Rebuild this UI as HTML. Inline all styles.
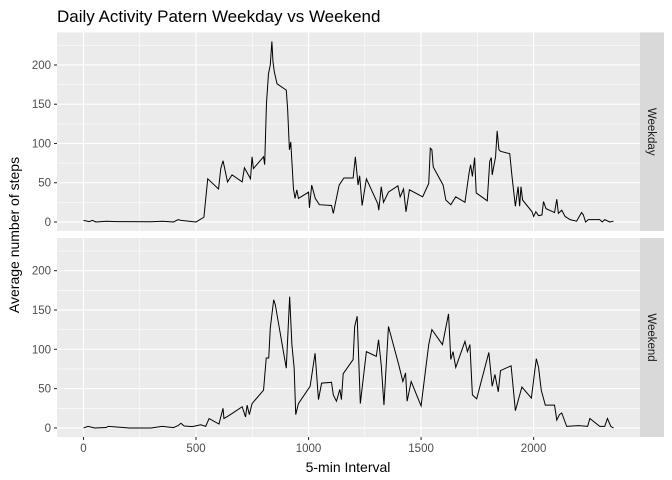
<!DOCTYPE html>
<html><head><meta charset="utf-8"><style>
body{margin:0;background:#fff;}
svg{display:block;font-family:"Liberation Sans",Arial,sans-serif;}
</style></head><body>
<svg id="chart" width="672" height="480">
<text x="57" y="22" font-size="17" fill="#000">Daily Activity Patern Weekday vs Weekend</text>
<text x="348" y="472" font-size="14" text-anchor="middle" fill="#000">5-min Interval</text>
<text transform="translate(19,235) rotate(-90)" font-size="14" text-anchor="middle" fill="#000">Average number of steps</text>
</svg>
<script>
const panelNames = ["Weekday","Weekend"];
const xTicks = [0,500,1000,1500,2000];
const yTicks = [0,50,100,150,200];
const weekdayIntervals = [0,25,40,55,100,150,200,300,350,400,420,433,500,535,552,600,610,620,640,660,705,715,742,749,755,800,805,813,822,830,837,842,848,860,901,907,915,921,933,940,948,955,1000,1004,1014,1030,1048,1102,1110,1136,1157,1198,1208,1220,1227,1238,1257,1308,1312,1323,1333,1355,1397,1407,1422,1433,1448,1507,1534,1541,1548,1554,1598,1610,1632,1654,1695,1713,1720,1728,1738,1745,1794,1805,1812,1816,1831,1838,1846,1853,1894,1904,1919,1931,1938,1944,1951,1993,2000,2010,2022,2037,2044,2055,2093,2103,2110,2125,2140,2162,2191,2213,2221,2231,2243,2294,2305,2316,2338,2355];
const weekdaySteps = [2,0.5,2,0,1,0.5,0.5,0.3,1,0,3,2,0,6,55,42,68,78,51,60,51,69,55,83,68,83,73,151,189,200,230,204,191,176,168,144,92,102,42,30,41,30,38,18,47,30,22,21,11,47,56,56,83,47,59,21,55,23,15,45,25,38,46,32,42,13,41,32,49,94,92,70,47,28,22,32,25,62,73,58,82,37,27,77,82,60,83,116,92,90,87,58,20,45,20,45,28,13,7,13,8,9,26,17,12,29,11,15,7,3,1,12,9,0,3,3,0,3,0,1];
const weekendIntervals = [0,20,50,100,110,200,300,350,400,420,433,447,484,521,543,558,602,620,624,653,705,720,727,737,749,800,812,823,830,845,852,901,916,926,936,943,955,1007,1029,1044,1058,1102,1110,1124,1139,1146,1154,1198,1205,1216,1230,1257,1301,1311,1323,1335,1355,1401,1419,1431,1438,1456,1500,1534,1548,1595,1622,1632,1642,1654,1695,1706,1717,1728,1747,1801,1816,1828,1843,1853,1900,1919,1948,1990,2012,2022,2034,2052,2093,2103,2115,2125,2147,2199,2240,2250,2294,2316,2328,2343,2355];
const weekendSteps = [0,2,0,0.5,2,0,0,2,0.5,3,6,2.5,1.7,4,2,12,5,25,12,17,27,14,29,17,31,48,89,89,127,163,157,76,167,106,76,17,31,53,95,36,57,58,42,34,49,36,69,87,129,142,31,97,91,112,80,29,129,80,59,70,34,59,28,106,125,106,145,87,97,77,110,97,106,42,37,96,53,68,46,73,79,22,52,38,88,77,48,29,29,10,17,19,2,3,2,12,2,2,12,2,0];

const svg = document.getElementById('chart');
const NS = 'http://www.w3.org/2000/svg';
const L = 57, R = 640;
const xMin = -117.75, xMax = 2472.75;
const yMin = -11.5, yMax = 241.5;
const panels = [{top:32.4,bottom:231,ix:weekdayIntervals,v:weekdaySteps},{top:238,bottom:437,ix:weekendIntervals,v:weekendSteps}];
function sx(t){return L + (t - xMin)/(xMax - xMin)*(R - L);}
function mk(tag, attrs, parent){const e=document.createElementNS(NS,tag);for(const k in attrs)e.setAttribute(k,attrs[k]);(parent||svg).appendChild(e);return e;}

panels.forEach((p,pi)=>{
  const sy = v => p.bottom - (v - yMin)/(yMax - yMin)*(p.bottom - p.top);
  const g = mk('g',{});
  
  
  mk('rect',{x:L,y:p.top,width:R-L,height:p.bottom-p.top,fill:'#EBEBEB'},g);
  // minor grid
  for(let i=0;i<xTicks.length-1;i++){const xm=sx((xTicks[i]+xTicks[i+1])/2);mk('line',{x1:xm,x2:xm,y1:p.top,y2:p.bottom,stroke:'#fff','stroke-width':0.55},g);}
  for(let i=0;i<yTicks.length;i++){const ym=sy(yTicks[i]+25);if(ym>p.top)mk('line',{x1:L,x2:R,y1:ym,y2:ym,stroke:'#fff','stroke-width':0.55},g);}
  xTicks.forEach(t=>{const x=sx(t);mk('line',{x1:x,x2:x,y1:p.top,y2:p.bottom,stroke:'#fff','stroke-width':1.1},g);});
  yTicks.forEach(t=>{const y=sy(t);mk('line',{x1:L,x2:R,y1:y,y2:y,stroke:'#fff','stroke-width':1.1},g);
    mk('line',{x1:L-3,x2:L,y1:y,y2:y,stroke:'#333','stroke-width':1.1},g);
    const tx=mk('text',{x:L-6,y:y+4,'font-size':11.5,'text-anchor':'end',fill:'#4D4D4D'},g);tx.textContent=t;
    
    
  });
  const d = p.ix.map((t,i)=>(i?'L':'M')+sx(t).toFixed(2)+','+sy(p.v[i]).toFixed(2)).join('');
  const line = mk('path',{d:d,fill:'none',stroke:'#000','stroke-width':1},g);
  
  
  const strip = mk('rect',{x:R,y:p.top,width:24,height:p.bottom-p.top,fill:'#D9D9D9'},g);
  
  
  const cy=(p.top+p.bottom)/2;
  const st = mk('text',{transform:'translate('+(R+8)+','+cy+') rotate(90)','font-size':11.5,'text-anchor':'middle',fill:'#1A1A1A'},g);
  st.textContent = panelNames[pi];
  
  
});
xTicks.forEach(t=>{const x=sx(t);
  mk('line',{x1:x,x2:x,y1:437,y2:440,stroke:'#333','stroke-width':1.1});
  const tx=mk('text',{x:x,y:452,'font-size':11.5,'text-anchor':'middle',fill:'#4D4D4D'});tx.textContent=t;
  
  
});
</script>
</body></html>
